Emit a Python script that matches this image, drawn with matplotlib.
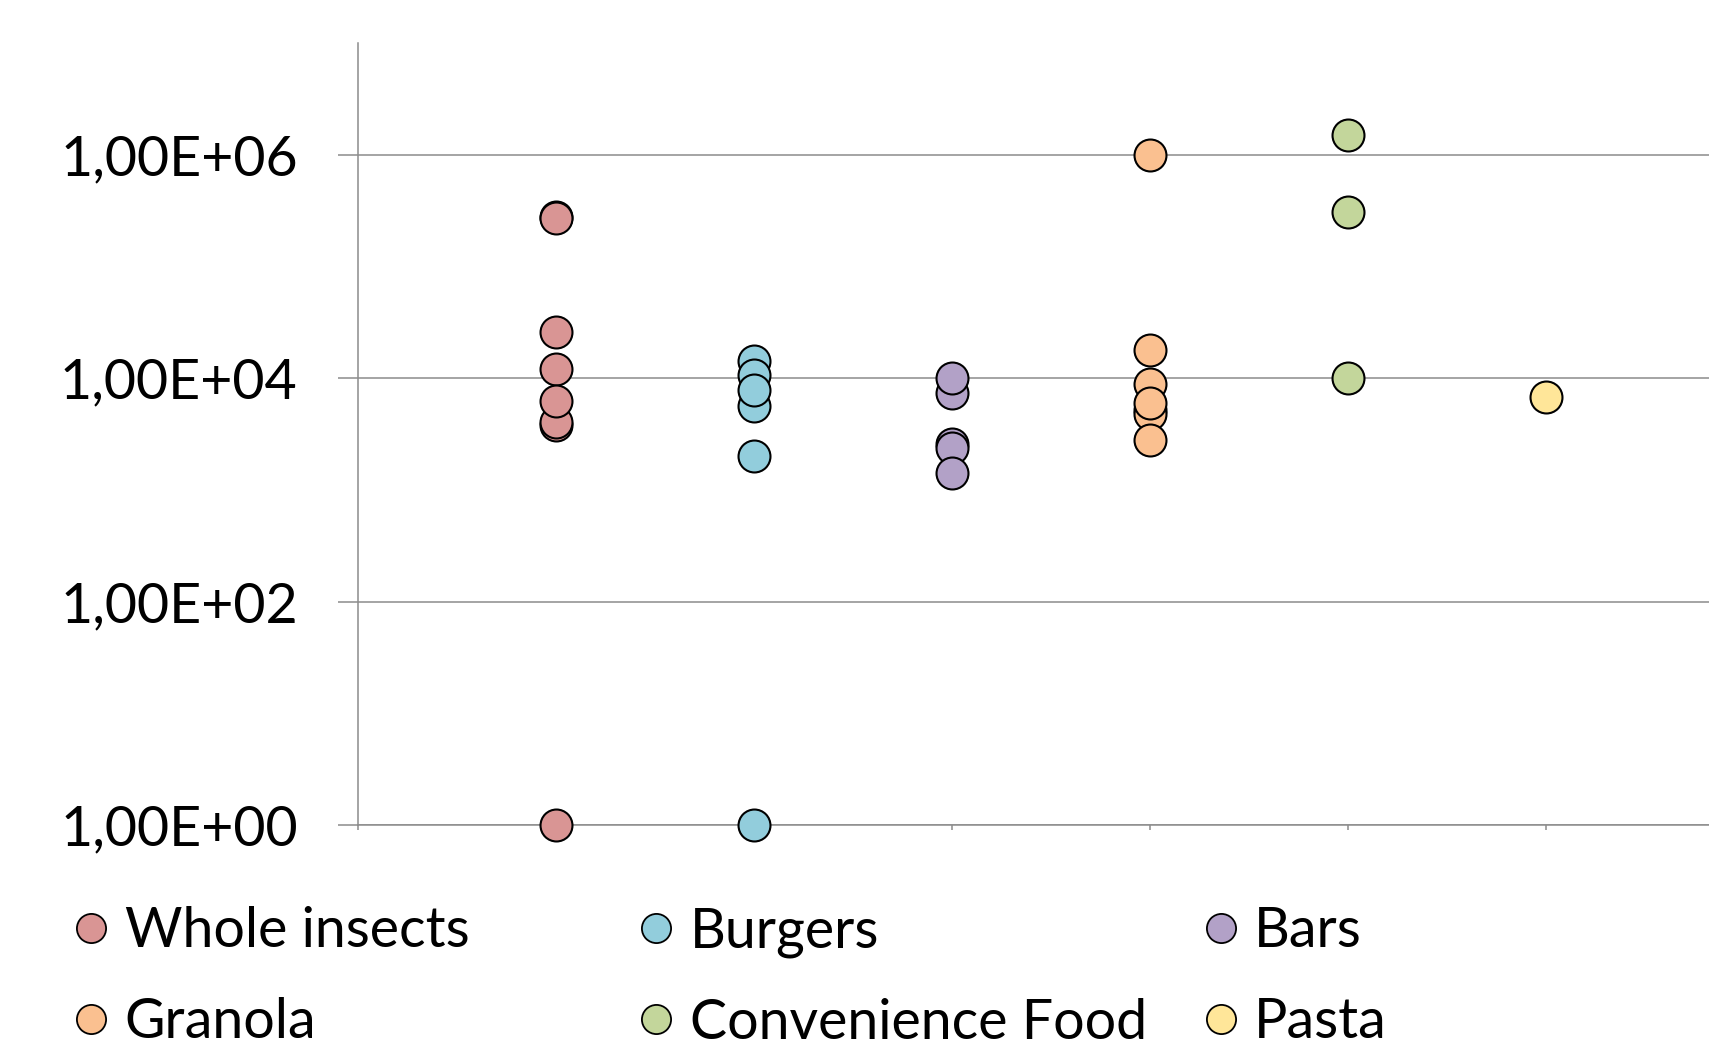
'''
scatter of counts per product group (log scale)
'''
import numpy as np
import matplotlib.pyplot as plt
from matplotlib.lines import Line2D
from matplotlib.ticker import FixedLocator, FuncFormatter, NullLocator

# data ----------------------------------------------------
groups = ['Whole insects', 'Burgers', 'Bars', 'Granola', 'Convenience Food', 'Pasta']
positions = [1, 2, 3, 4, 5, 6]

whole_insects = [1, 3.8e3, 4.1e3, 2.8e5, 2.7e5, 2.6e4, 1.2e4, 6.2e3]
burgers = [1, 2.0e3, 1.42e4, 1.06e4, 5.7e3, 7.8e3]
bars = [7.45e3, 1.01e4, 2.57e3, 2.37e3, 1.41e3]
granola = [1.0e6, 1.81e4, 8.8e3, 5.2e3, 4.8e3, 6.0e3, 2.82e3]
convenience = [1.52e6, 3.1e5, 1.0e4]
pasta = [6.8e3]

series = [whole_insects, burgers, bars, granola, convenience, pasta]
colors = ['#D99594', '#92CDDC', '#B2A1C7', '#FAC090', '#C3D69B', '#FFE699']

yticks = [1e0, 1e2, 1e4, 1e6]

# plot ----------------------------------------------------
plt.rcParams['font.family'] = ['Lato', 'DejaVu Sans']
grey = '#8C8C8C'

fig = plt.figure(figsize=(17.09, 10.55), dpi=100)
ax = fig.add_axes([0.2095, 0.218, 0.811, 0.741])

for pos, vals, col in zip(positions, series, colors):
    ax.plot([pos] * len(vals), vals, 'o', ms=23, mfc=col, mec='black',
            mew=1.5, clip_on=False, zorder=3)

ax.set_yscale('log')
ax.set_ylim(1, 1e7)
ax.set_xlim(0, 7)
ax.yaxis.set_major_locator(FixedLocator(yticks))
ax.yaxis.set_minor_locator(NullLocator())
ax.yaxis.set_major_formatter(FuncFormatter(lambda v, p: '{:.2E}'.format(v).replace('.', ',')))
ax.set_xticks(range(0, 8))
ax.set_xticklabels([])
ax.grid(axis='y', color=grey, lw=1.1)
ax.set_axisbelow(True)

for side in ['top', 'right']:
    ax.spines[side].set_visible(False)
for side in ['left', 'bottom']:
    ax.spines[side].set_color(grey)
    ax.spines[side].set_linewidth(1.1)
ax.tick_params('y', length=14.4, width=1.1, color=grey, labelsize=40, pad=29)
ax.tick_params('x', length=3.6, width=1.1, color=grey)

# legend (three columns, row-wise order)
handles = [Line2D([], [], ls='none', marker='o', ms=21, mfc=c, mec='black',
                  mew=1.3, label=g) for g, c in zip(groups, colors)]
col_x = [0.0421, 0.3727, 0.7028]
for i, x in enumerate(col_x):
    fig.legend(handles=[handles[i], handles[i + 3]], loc='upper left',
               bbox_to_anchor=(x, 0.141), frameon=False, fontsize=40,
               borderpad=0, borderaxespad=0, handlelength=0.7,
               handletextpad=0.25, labelspacing=0.72)

plt.savefig('out.png', dpi=100)
